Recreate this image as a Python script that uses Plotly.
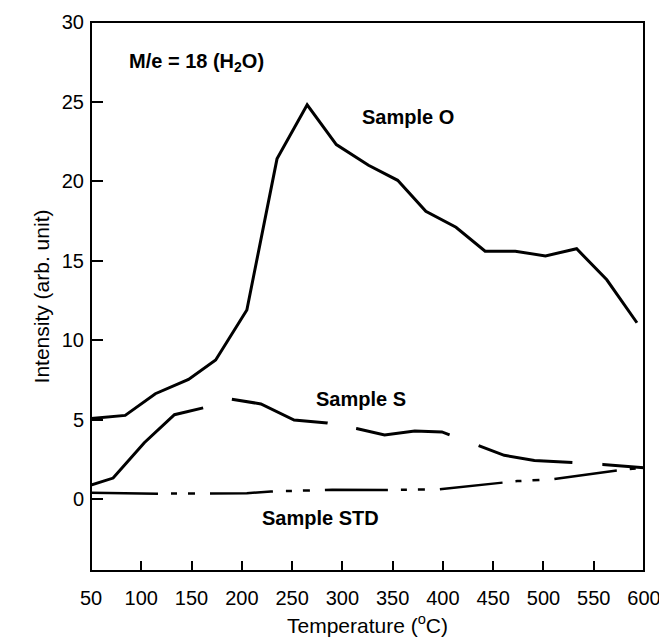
import plotly.graph_objects as go

# ---- data ----
o_temp = [50, 84, 114, 147, 174, 205, 235, 265, 294, 326, 355, 383, 413, 442, 472, 502, 533, 563, 593]
o_int = [5.09, 5.28, 6.64, 7.54, 8.76, 11.9, 21.4, 24.8, 22.3, 21.0, 20.05, 18.1, 17.1, 15.6, 15.6, 15.3, 15.75, 13.8, 11.1]

s_temp = [50, 72, 103, 133, 162, 190, 219, 252, 285, 314, 342, 372, 399, 407, 436, 461, 491, 529, 559, 600]
s_int = [0.9, 1.34, 3.56, 5.32, 5.76, 6.3, 6.0, 4.99, 4.8, 4.46, 4.05, 4.3, 4.24, 4.05, 3.36, 2.77, 2.45, 2.3, 2.2, 1.99]

std_temp = [50, 117, 205, 229, 290, 345, 395, 458, 474, 508, 573, 600]
std_int = [0.42, 0.36, 0.38, 0.5, 0.6, 0.59, 0.63, 1.05, 1.15, 1.26, 1.82, 2.0]

x_ticks = [50, 100, 150, 200, 250, 300, 350, 400, 450, 500, 550, 600]
y_ticks = [0, 5, 10, 15, 20, 25, 30]

FONT = "Liberation Sans, Arial, sans-serif"

s_dash = "141px,30px,100px,29px,95px,31px,96px,30px,100px,30px"
std_dash = "67px,13px,6px,11px,7px,15px," + ",".join(["63px,13px,6px,11px,7px,15px"] * 5)

fig = go.Figure()
fig.add_trace(go.Scatter(x=o_temp, y=o_int, mode="lines",
                         line=dict(color="black", width=3), showlegend=False))
fig.add_trace(go.Scatter(x=s_temp, y=s_int, mode="lines",
                         line=dict(color="black", width=3, dash=s_dash), showlegend=False))
fig.add_trace(go.Scatter(x=std_temp, y=std_int, mode="lines",
                         line=dict(color="black", width=2.5, dash=std_dash), showlegend=False))

ann_font = dict(family=FONT, size=20, color="black")
fig.add_annotation(x=86, y=27.45, text="<b>M/e = 18 (H<sub>2</sub>O)</b>", showarrow=False,
                   xanchor="left", yanchor="middle", font=ann_font)
fig.add_annotation(x=365, y=24.0, text="<b>Sample O</b>", showarrow=False,
                   xanchor="center", yanchor="middle", font=ann_font)
fig.add_annotation(x=319, y=6.29, text="<b>Sample S</b>", showarrow=False,
                   xanchor="center", yanchor="middle", font=ann_font)
fig.add_annotation(x=278, y=-1.15, text="<b>Sample STD</b>", showarrow=False,
                   xanchor="center", yanchor="middle", font=ann_font)

# plot frame
fig.add_shape(type="rect", xref="paper", yref="paper", x0=0, x1=1, y0=0, y1=1,
              line=dict(color="black", width=2), fillcolor="rgba(0,0,0,0)")

fig.update_layout(
    width=667, height=642,
    margin=dict(l=83, r=31, t=14, b=79, autoexpand=False),
    paper_bgcolor="white", plot_bgcolor="white",
    font=dict(family=FONT, size=20, color="black"),
    xaxis=dict(range=[50, 600], tickvals=x_ticks, ticktext=[str(v) for v in x_ticks],
               ticks="inside", ticklen=10, tickwidth=1.5, tickcolor="black",
               showline=False, showgrid=False, zeroline=False,
               ticklabelstandoff=13, automargin=False,
               tickfont=dict(family=FONT, size=20),
               title=dict(text="Temperature (<sup>o</sup>C)", font=dict(family=FONT, size=21), standoff=10)),
    yaxis=dict(range=[-4.5, 30], tickvals=y_ticks, ticktext=[str(v) for v in y_ticks],
               ticks="inside", ticklen=12, tickwidth=1.5, tickcolor="black",
               showline=False, showgrid=False, zeroline=False,
               ticklabelstandoff=6, automargin=False,
               tickfont=dict(family=FONT, size=20),
               title=dict(text="Intensity (arb. unit)", font=dict(family=FONT, size=21), standoff=6)),
)

fig.write_html("out.html")
